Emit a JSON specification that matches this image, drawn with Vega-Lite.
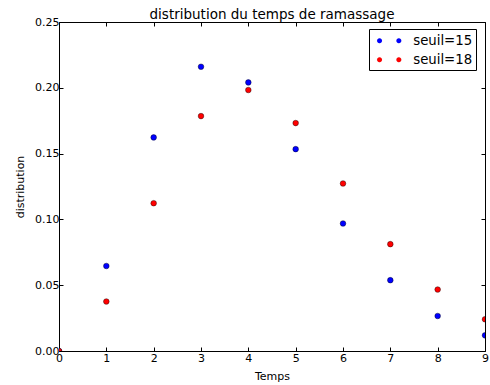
{
  "$schema": "https://vega.github.io/schema/vega-lite/v6.json",
  "width": 426,
  "height": 329,
  "autosize": {"type": "none"},
  "padding": {"left": 59, "top": 22, "right": 5, "bottom": 34},
  "background": "white",
  "title": {"text": "distribution du temps de ramassage", "fontSize": 13.5, "font": "DejaVu Sans", "fontWeight": "normal", "color": "black", "offset": -5},
  "config": {
    "font": "DejaVu Sans",
    "view": {"stroke": "black", "strokeWidth": 1},
    "axis": {
      "domain": false,
      "grid": false,
      "ticks": true,
      "tickColor": "black",
      "tickSize": -4,
      "tickWidth": 1,
      "labelFlush": false,
      "labelFont": "DejaVu Sans",
      "labelFontSize": 11,
      "labelColor": "black",
      "titleFont": "DejaVu Sans",
      "titleFontSize": 11,
      "titleFontWeight": "normal",
      "titleColor": "black"
    }
  },
  "data": {"values": [
    {"Temps": 0, "distribution": 0.0, "serie": "seuil=15"},
    {"Temps": 1, "distribution": 0.0646, "serie": "seuil=15"},
    {"Temps": 2, "distribution": 0.1623, "serie": "seuil=15"},
    {"Temps": 3, "distribution": 0.216, "serie": "seuil=15"},
    {"Temps": 4, "distribution": 0.2041, "serie": "seuil=15"},
    {"Temps": 5, "distribution": 0.1534, "serie": "seuil=15"},
    {"Temps": 6, "distribution": 0.0969, "serie": "seuil=15"},
    {"Temps": 7, "distribution": 0.0538, "serie": "seuil=15"},
    {"Temps": 8, "distribution": 0.0266, "serie": "seuil=15"},
    {"Temps": 9, "distribution": 0.0119, "serie": "seuil=15"},
    {"Temps": 0, "distribution": 0.0, "serie": "seuil=18"},
    {"Temps": 1, "distribution": 0.0376, "serie": "seuil=18"},
    {"Temps": 2, "distribution": 0.1123, "serie": "seuil=18"},
    {"Temps": 3, "distribution": 0.1785, "serie": "seuil=18"},
    {"Temps": 4, "distribution": 0.1983, "serie": "seuil=18"},
    {"Temps": 5, "distribution": 0.1732, "serie": "seuil=18"},
    {"Temps": 6, "distribution": 0.1273, "serie": "seuil=18"},
    {"Temps": 7, "distribution": 0.0812, "serie": "seuil=18"},
    {"Temps": 8, "distribution": 0.0467, "serie": "seuil=18"},
    {"Temps": 9, "distribution": 0.0241, "serie": "seuil=18"}
  ]},
  "layer": [
    {
      "transform": [{"filter": "datum.serie == 'seuil=15'"}],
      "mark": {"type": "point", "shape": "circle", "filled": true, "opacity": 1, "size": 32, "stroke": "black", "strokeWidth": 0.4, "clip": true},
      "encoding": {
        "x": {"field": "Temps", "type": "quantitative", "scale": {"domain": [0, 9], "nice": false, "zero": false},
              "axis": {"orient": "bottom", "values": [0,1,2,3,4,5,6,7,8,9], "format": "d", "title": "Temps", "labelPadding": 5, "titlePadding": 7}},
        "y": {"field": "distribution", "type": "quantitative", "scale": {"domain": [0, 0.25], "nice": false},
              "axis": {"orient": "left", "values": [0, 0.05, 0.1, 0.15, 0.2, 0.25], "format": ".2f", "title": "distribution", "labelPadding": 4, "titlePadding": 9}},
        "color": {"field": "serie", "type": "nominal",
                  "scale": {"domain": ["seuil=15", "seuil=18"], "range": ["#0000ff", "#ff0000"]},
                  "legend": {
                    "orient": "none", "legendX": 310, "legendY": 7, "title": null,
                    "strokeColor": "black", "fillColor": "white", "padding": 3.7, "cornerRadius": 0,
                    "labelFont": "DejaVu Sans", "labelFontSize": 13.3, "labelColor": "black",
                    "labelOffset": 16, "symbolOffset": 8.5,
                    "symbolSize": 225, "rowPadding": 4,
                    "symbolType": "M-1.62,0a0.333,0.333 0 1,0 0.666,0a0.333,0.333 0 1,0 -0.666,0Z M0.954,0a0.333,0.333 0 1,0 0.666,0a0.333,0.333 0 1,0 -0.666,0Z",
                    "symbolStrokeColor": "black", "symbolStrokeWidth": 0.05
                  }}
      }
    },
    {
      "transform": [{"filter": "datum.serie == 'seuil=18'"}],
      "mark": {"type": "point", "shape": "circle", "filled": true, "opacity": 1, "size": 32, "stroke": "black", "strokeWidth": 0.4, "clip": true},
      "encoding": {
        "x": {"field": "Temps", "type": "quantitative",
              "axis": {"orient": "top", "values": [0,1,2,3,4,5,6,7,8,9], "labels": false, "title": null}},
        "y": {"field": "distribution", "type": "quantitative",
              "axis": {"orient": "right", "values": [0, 0.05, 0.1, 0.15, 0.2, 0.25], "labels": false, "title": null}},
        "color": {"field": "serie", "type": "nominal"}
      }
    }
  ]
}
